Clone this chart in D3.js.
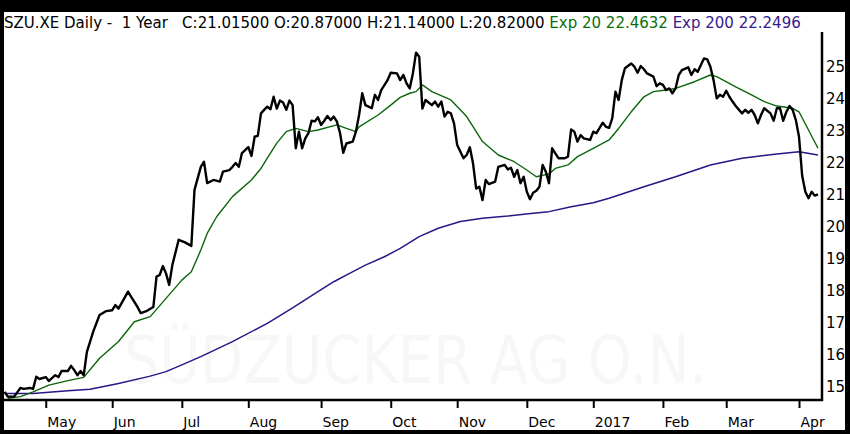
<!DOCTYPE html>
<html>
<head>
<meta charset="utf-8">
<script src="https://cdn.jsdelivr.net/npm/d3@7"></script>
<style>
  html, body { margin: 0; padding: 0; background: #000; }
  svg { display: block; }
</style>
</head>
<body>
<div id="vis"></div>
<script>
// trading day index (0 = first session shown) and closing price
var closeDay = [0, 1, 3, 5, 6, 8, 9, 10, 11, 13, 14, 16, 17, 18, 20, 21, 22, 23, 24, 25,
  26, 28, 30, 32, 34, 35, 36, 39, 40, 42, 43, 45, 47, 48, 49, 50, 51, 52, 53, 55,
  57, 59, 60, 62, 63, 64, 66, 68, 69, 71, 72, 73, 74, 75, 76, 77, 78, 79, 80, 81,
  82, 83, 84, 85, 86, 87, 88, 89, 90, 91, 92, 93, 94, 95, 96, 97, 98, 99, 100, 101,
  102, 103, 104, 105, 106, 107, 108, 110, 111, 112, 113, 114, 115, 116, 117, 118, 119, 121, 122, 124,
  125, 126, 127, 128, 129, 130, 131, 132, 133, 135, 136, 137, 138, 139, 140, 141, 142, 143, 145, 146,
  147, 148, 149, 150, 151, 152, 153, 155, 156, 158, 159, 160, 161, 162, 163, 164, 165, 166, 167, 168,
  169, 170, 171, 172, 173, 174, 175, 177, 178, 179, 180, 181, 182, 183, 185, 186, 187, 189, 190, 191,
  192, 193, 194, 195, 196, 198, 199, 200, 201, 202, 203, 205, 206, 207, 208, 209, 210, 211, 212, 213,
  214, 216, 217, 218, 219, 220, 221, 222, 223, 224, 225, 226, 227, 228, 229, 230, 231, 233, 234, 235,
  236, 237, 238, 239, 240, 242, 243, 244, 245, 246, 247, 248, 249, 250, 251, 252, 253, 254, 255, 256,
  257];
var closeVal = [14.85, 14.70, 14.70, 14.97, 14.94, 14.97, 14.94, 15.32, 15.25, 15.31, 15.19, 15.37, 15.31, 15.50, 15.50, 15.66, 15.53, 15.37, 15.50, 15.37,
  16.10, 16.73, 17.25, 17.37, 17.40, 17.56, 17.45, 17.98, 17.82, 17.50, 17.31, 17.38, 17.50, 18.45, 18.50, 18.78, 18.55, 18.19, 18.81, 19.60,
  19.52, 19.41, 21.16, 21.88, 22.04, 21.37, 21.47, 21.42, 21.73, 21.78, 21.88, 22.00, 21.88, 22.31, 22.40, 22.50, 22.22, 22.82, 22.85, 23.55,
  23.66, 23.76, 23.68, 24.07, 23.70, 23.95, 23.89, 23.66, 23.95, 23.81, 22.46, 22.98, 22.46, 22.77, 22.93, 23.32, 23.30, 23.43, 23.19, 23.32,
  23.47, 23.34, 23.45, 23.29, 22.93, 22.32, 22.61, 22.67, 22.98, 23.50, 24.18, 23.81, 23.76, 23.71, 24.13, 23.97, 24.28, 24.59, 24.82, 24.80,
  24.59, 24.75, 24.49, 24.33, 24.80, 25.45, 25.32, 23.70, 23.97, 23.81, 23.92, 23.76, 23.92, 23.45, 23.60, 23.55, 23.24, 22.56, 22.15, 22.25,
  22.49, 21.99, 21.20, 21.26, 20.84, 21.47, 21.34, 21.42, 21.88, 21.94, 21.80, 21.85, 21.57, 21.78, 21.37, 21.57, 21.10, 20.87, 21.07, 21.13,
  21.26, 21.94, 21.73, 21.37, 22.46, 22.30, 22.15, 22.15, 22.20, 23.05, 22.98, 22.67, 22.87, 22.77, 22.72, 22.98, 22.93, 23.26, 23.13, 23.10,
  23.40, 24.23, 23.97, 24.59, 24.96, 25.11, 25.01, 24.82, 25.03, 24.93, 24.80, 24.70, 24.40, 24.49, 24.44, 24.28, 24.33, 24.18, 24.33, 24.75,
  24.90, 24.99, 24.75, 24.93, 24.85, 25.06, 25.27, 25.24, 25.01, 24.59, 24.02, 24.13, 24.07, 24.26, 24.07, 23.92, 23.78, 23.55, 23.66, 23.57,
  23.66, 23.50, 23.24, 23.50, 23.71, 23.55, 23.32, 23.71, 23.71, 23.32, 23.60, 23.78, 23.66, 23.34, 22.82, 21.60, 21.10, 20.90, 21.10, 20.98,
  21.02];

// Exp 20 (green)
var ema20Day = [1, 5, 9, 14, 20, 25, 30, 36, 41, 46, 51, 56, 59, 62, 64, 67, 72, 78, 81, 83,
  86, 89, 92, 96, 99, 105, 108, 111, 112, 118, 122, 125, 128, 130, 132, 135, 141, 146, 151, 156,
  161, 165, 168, 172, 174, 178, 181, 186, 191, 194, 198, 202, 205, 209, 212, 218, 223, 225, 231, 236,
  240, 244, 249, 251, 254, 257];
var ema20Val = [14.65, 14.70, 14.85, 15.06, 15.20, 15.30, 15.90, 16.42, 17.04, 17.20, 17.77, 18.34, 18.60, 19.28, 19.80, 20.32, 20.95, 21.47, 21.83, 22.15,
  22.62, 22.98, 23.08, 22.98, 23.03, 23.19, 23.08, 22.98, 23.13, 23.50, 23.81, 24.05, 24.18, 24.23, 24.44, 24.23, 23.97, 23.45, 22.67, 22.25,
  22.04, 21.78, 21.57, 21.66, 21.83, 21.94, 22.20, 22.46, 22.72, 23.08, 23.60, 24.07, 24.23, 24.28, 24.33, 24.54, 24.75, 24.70, 24.38, 24.13,
  23.92, 23.78, 23.71, 23.60, 23.03, 22.46];

// Exp 200 (purple)
var ema200Day = [0, 9, 20, 27, 36, 46, 51, 56, 62, 72, 83, 91, 99, 104, 109, 114, 120, 125, 131, 137,
  144, 151, 159, 167, 172, 179, 186, 191, 202, 212, 223, 233, 244, 251, 257];
var ema200Val = [14.80, 14.80, 14.88, 14.93, 15.11, 15.34, 15.48, 15.69, 15.95, 16.42, 16.99, 17.47, 17.98, 18.29, 18.55, 18.81, 19.07, 19.33, 19.70, 19.96,
  20.17, 20.27, 20.34, 20.43, 20.48, 20.63, 20.76, 20.90, 21.26, 21.57, 21.94, 22.15, 22.28, 22.35, 22.25];

// first session of each month
var monthDay = [13, 34, 56, 77, 100, 122, 143, 165, 186, 208, 228, 251];
var monthLabels = ["May", "Jun", "Jul", "Aug", "Sep", "Oct", "Nov", "Dec", "2017", "Feb", "Mar", "Apr"];
var priceTicks = [15, 16, 17, 18, 19, 20, 21, 22, 23, 24, 25];

var header = [
  { t: "SZU.XE Daily -  1 Year   C:21.01500 O:20.87000 H:21.14000 L:20.82000 ", c: "#000" },
  { t: "Exp 20 22.4632 ", c: "#0b6e0b" },
  { t: "Exp 200 22.2496", c: "#36198a" }
];

var width = 850;
var height = 434;
var FONT = "'DejaVu Sans', Verdana, sans-serif";

var svg = d3.select("#vis").append("svg")
    .attr("width", width)
    .attr("height", height);

// black frame + white panel
svg.append("rect").attr("width", width).attr("height", height).style("fill", "#000");
svg.append("rect")
    .attr("x", 4).attr("y", 12)
    .attr("width", 841).attr("height", 418)
    .style("fill", "#fff");

var x = d3.scaleLinear().domain([0, 257]).range([4.6, 818]);
var y = d3.scaleLinear().domain([15, 25]).range([387, 67]);

// watermark
svg.append("text")
    .attr("x", 124)
    .attr("y", 383)
    .attr("textLength", 583)
    .attr("lengthAdjust", "spacingAndGlyphs")
    .style("font-family", FONT)
    .style("font-size", "66px")
    .style("fill", "#f7f7f7")
    .text("SÜDZUCKER AG  O.N.");

var plot = svg.append("g");
plot.append("clipPath").attr("id", "clip")
  .append("rect").attr("x", 4).attr("y", 32).attr("width", 818).attr("height", 368);

function drawLine(days, vals, color, w) {
  var pts = days.map(function(d, i) { return [d, vals[i]]; });
  var line = d3.line()
      .x(function(d) { return x(d[0]); })
      .y(function(d) { return y(d[1]); });
  plot.append("path")
      .datum(pts)
      .attr("clip-path", "url(#clip)")
      .attr("d", line)
      .style("fill", "none")
      .style("stroke", color)
      .style("stroke-width", w)
      .style("stroke-linejoin", "round");
}

drawLine(ema200Day, ema200Val, "#2b1587", 1.5);
drawLine(ema20Day, ema20Val, "#0b660b", 1.4);
drawLine(closeDay, closeVal, "#000", 2.4);

// bottom axis
var xAxis = d3.axisBottom(x)
    .tickValues(monthDay)
    .tickSize(8)
    .tickFormat(function(d, i) { return monthLabels[i]; });
var gx = svg.append("g").attr("transform", "translate(0,400)").call(xAxis);
gx.select(".domain").remove();
gx.selectAll(".tick line").style("stroke", "#000").style("stroke-width", 2);
gx.selectAll(".tick text")
    .attr("text-anchor", "start")
    .attr("x", 1)
    .attr("y", 0)
    .attr("dy", "26.5px")
    .style("font-family", FONT)
    .style("font-size", "14px")
    .style("fill", "#000");

svg.append("line")
    .attr("x1", 4).attr("x2", 823)
    .attr("y1", 400).attr("y2", 400)
    .style("stroke", "#000").style("stroke-width", 2.5);

// right axis
var yAxis = d3.axisRight(y).tickValues(priceTicks).tickSize(0).tickPadding(4);
var gy = svg.append("g").attr("transform", "translate(822,0)").call(yAxis);
gy.select(".domain").remove();
gy.selectAll(".tick text")
    .style("font-family", FONT)
    .style("font-size", "15px")
    .style("fill", "#000");

svg.append("line")
    .attr("x1", 822).attr("x2", 822)
    .attr("y1", 32).attr("y2", 401)
    .style("stroke", "#000").style("stroke-width", 2.5);

// header
var ht = svg.append("text")
    .attr("x", 4)
    .attr("y", 28)
    .attr("xml:space", "preserve")
    .style("white-space", "pre")
    .style("font-family", FONT)
    .style("font-size", "15px");
header.forEach(function(h) {
  ht.append("tspan").style("fill", h.c).text(h.t);
});
</script>
</body>
</html>
